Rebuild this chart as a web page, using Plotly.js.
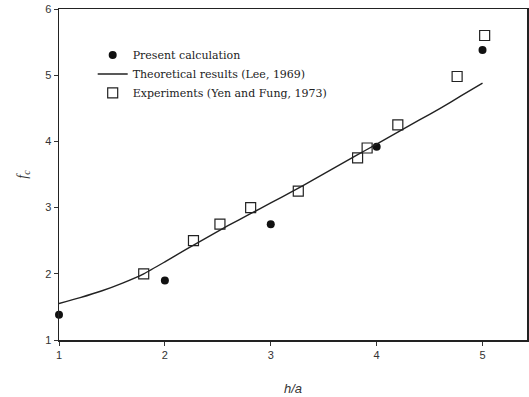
<!DOCTYPE html>
<html>
<head>
<meta charset="utf-8">
<script src="https://cdn.plot.ly/plotly-3.0.1.min.js"></script>
<style>html,body{margin:0;padding:0;background:#fff;}#chart{width:529px;height:397px;}</style>
</head>
<body>
<div id="chart"></div>
<script>
// Present calculation (filled circles)
var calcX = [1, 2, 3, 4, 5];
var calcY = [1.38, 1.9, 2.75, 3.92, 5.38];

// Theoretical results (Lee, 1969) - line
var theoryX = [1.0, 1.2, 1.4, 1.6, 1.8, 2.0, 2.2, 2.4, 2.6, 2.8, 3.0, 3.2, 3.4, 3.6, 3.8, 4.0, 4.2, 4.4, 4.6, 4.8, 5.0];
var theoryY = [1.55, 1.64, 1.74, 1.86, 2.0, 2.18, 2.37, 2.55, 2.73, 2.9, 3.07, 3.24, 3.42, 3.6, 3.78, 3.96, 4.14, 4.32, 4.5, 4.69, 4.88];

// Experiments (Yen and Fung, 1973) - open squares
var expX = [1.8, 2.27, 2.52, 2.81, 3.26, 3.82, 3.91, 4.2, 4.76, 5.02];
var expY = [2.0, 2.5, 2.75, 3.0, 3.25, 3.75, 3.9, 4.25, 4.98, 5.6];

var xTicks = [1, 2, 3, 4, 5];
var yTicks = [1, 2, 3, 4, 5, 6];

var traces = [
  {x: calcX, y: calcY, mode: 'markers', type: 'scatter', name: 'Present calculation',
   marker: {symbol: 'circle', size: 8, color: '#111'}, cliponaxis: false},
  {x: theoryX, y: theoryY, mode: 'lines', type: 'scatter', name: 'Theoretical results (Lee, 1969)',
   line: {color: '#222', width: 1.4, shape: 'spline', smoothing: 0.6}},
  {x: expX, y: expY, mode: 'markers', type: 'scatter', name: 'Experiments (Yen and Fung, 1973)',
   marker: {symbol: 'square-open', size: 10, color: '#222', line: {width: 1.2, color: '#222'}}, cliponaxis: false}
];

var layout = {
  width: 529, height: 397,
  margin: {l: 59, r: 2, t: 9, b: 57},
  paper_bgcolor: '#fff', plot_bgcolor: '#fff',
  showlegend: true,
  legend: {x: 0.072, y: 0.905, xanchor: 'left', yanchor: 'top', bgcolor: 'rgba(0,0,0,0)',
           font: {family: 'DejaVu Serif, serif', size: 11, color: '#222'}, tracegroupgap: 0, itemwidth: 30},
  xaxis: {range: [1, 5.42], tickvals: xTicks, ticktext: xTicks.map(String), ticks: 'outside', ticklen: 4,
          tickcolor: '#333', showgrid: false, zeroline: false, showline: true, linecolor: '#222', linewidth: 1.5,
          mirror: true, tickfont: {family: 'Liberation Sans, Arial, sans-serif', size: 11, color: '#333'},
          title: {text: '<i>h/a</i>', font: {family: 'Liberation Sans, Arial, sans-serif', size: 13, color: '#333'}, standoff: 24}},
  yaxis: {range: [1, 6], tickvals: yTicks, ticktext: yTicks.map(String), ticks: 'outside', ticklen: 4,
          tickcolor: '#333', showgrid: false, zeroline: false, showline: true, linecolor: '#222', linewidth: 1.5,
          mirror: true, tickfont: {family: 'Liberation Sans, Arial, sans-serif', size: 11, color: '#333'},
          title: {text: '<i>f</i><sub><i>c</i></sub>', font: {family: 'Liberation Serif, serif', size: 14, color: '#333'}, standoff: 14}}
};

Plotly.newPlot('chart', traces, layout, {displayModeBar: false, staticPlot: true});
</script>
</body>
</html>
